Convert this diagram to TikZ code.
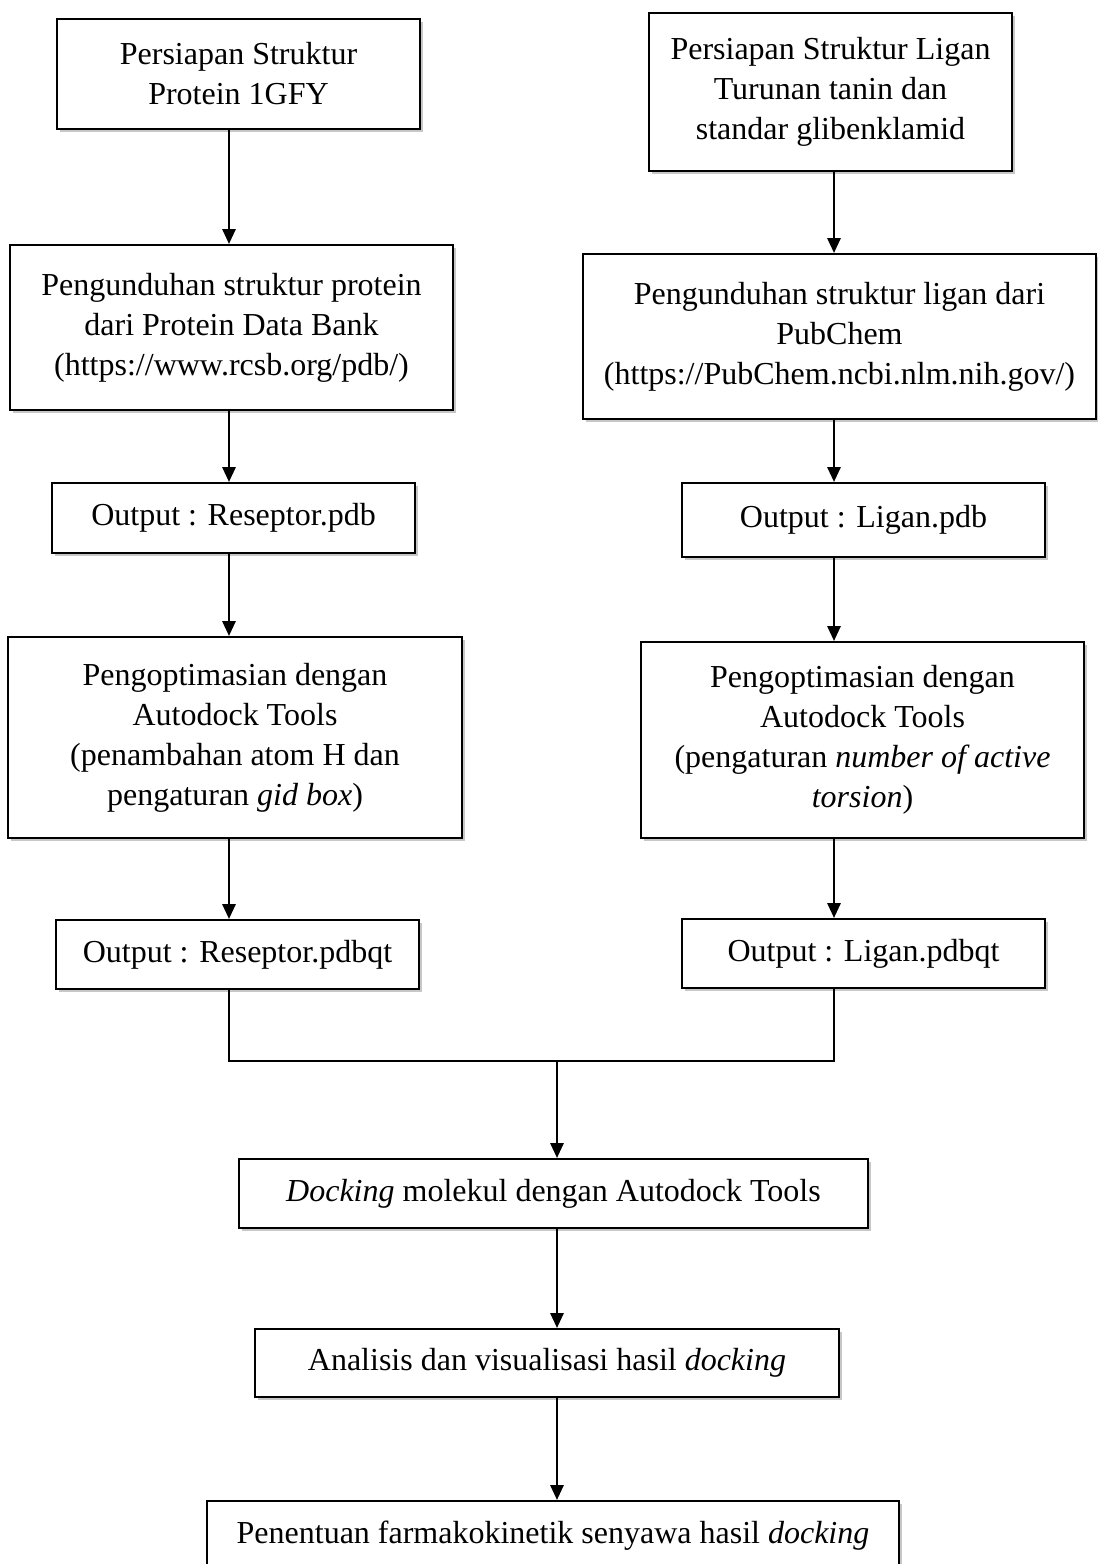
\documentclass[tikz,border=0pt]{standalone}
\usepackage{fontspec}
\setmainfont{Liberation Serif}
\usetikzlibrary{arrows.meta,shadows}
\newlength\pxu
\setlength\pxu{0.375pt}

\tikzset{
  stepbox/.style={draw, line width=0.8pt, fill=white, align=center, inner sep=2pt,
    font=\fontsize{12}{15}\selectfont,
    drop shadow={shadow xshift=1.1pt, shadow yshift=-1.1pt, opacity=0.22, fill=black}},
  flow/.style={line width=0.8pt, -{Triangle[length=5.6pt,width=5pt]}},
  link/.style={line width=0.8pt}
}

\begin{document}
\begin{tikzpicture}[x=0.375pt, y=-0.375pt]
        \path[use as bounding box, fill=white] (0,0) rectangle (1097,1564);

        % Columns of the connectors
        \coordinate (colL) at (229,0);
        \coordinate (colR) at (834,0);
        \coordinate (colM) at (557,0);
        \coordinate (join) at (557,1061);

        % Protein branch
        \node[stepbox, minimum width=363\pxu, minimum height=110\pxu] (prot) at (238.5,74) {Persiapan Struktur\\Protein 1GFY};
        \node[stepbox, minimum width=443\pxu, minimum height=165\pxu] (protdl) at (231.5,327.5) {Pengunduhan struktur protein\\dari Protein Data Bank\\(https://www.rcsb.org/pdb/)};
        \node[stepbox, minimum width=363\pxu, minimum height=70\pxu] (recpdb) at (233.5,518) {Output : Reseptor.pdb};
        \node[stepbox, minimum width=454\pxu, minimum height=201\pxu] (recopt) at (235,737.5) {Pengoptimasian dengan\\Autodock Tools\\(penambahan atom H dan\\pengaturan \textit{gid box})};
        \node[stepbox, minimum width=363\pxu, minimum height=69\pxu] (recqt) at (237.5,954.5) {Output : Reseptor.pdbqt};

        % Ligand branch
        \node[stepbox, minimum width=363\pxu, minimum height=158\pxu] (lig) at (830.5,92) {Persiapan Struktur Ligan\\Turunan tanin dan\\standar glibenklamid};
        \node[stepbox, minimum width=513\pxu, minimum height=165\pxu] (ligdl) at (839.5,336.5) {Pengunduhan struktur ligan dari\\PubChem\\(https://PubChem.ncbi.nlm.nih.gov/)};
        \node[stepbox, minimum width=363\pxu, minimum height=74\pxu] (ligpdb) at (863.5,520) {Output : Ligan.pdb};
        \node[stepbox, minimum width=443\pxu, minimum height=196\pxu] (ligopt) at (862.5,740) {Pengoptimasian dengan\\Autodock Tools\\ (pengaturan \textit{number of active}\\\textit{torsion})};
        \node[stepbox, minimum width=363\pxu, minimum height=69\pxu] (ligqt) at (863.5,953.5) {Output : Ligan.pdbqt};

        % Common steps
        \node[stepbox, minimum width=629\pxu, minimum height=69\pxu] (dock) at (553.5,1193.5) {\textit{Docking} molekul dengan Autodock Tools};
        \node[stepbox, minimum width=584\pxu, minimum height=68\pxu] (anal) at (547,1363) {Analisis dan visualisasi hasil \textit{docking}};
        \node[stepbox, minimum width=692\pxu, minimum height=69\pxu] (pkin) at (553,1535.5) {Penentuan farmakokinetik senyawa hasil \textit{docking}};

        % Arrows
        \draw[flow] (prot.south -| colL) -- (protdl.north -| colL);
        \draw[flow] (protdl.south -| colL) -- (recpdb.north -| colL);
        \draw[flow] (recpdb.south -| colL) -- (recopt.north -| colL);
        \draw[flow] (recopt.south -| colL) -- (recqt.north -| colL);
        \draw[flow] (lig.south -| colR) -- (ligdl.north -| colR);
        \draw[flow] (ligdl.south -| colR) -- (ligpdb.north -| colR);
        \draw[flow] (ligpdb.south -| colR) -- (ligopt.north -| colR);
        \draw[flow] (ligopt.south -| colR) -- (ligqt.north -| colR);

        % Merge
        \draw[link] (recqt.south -| colL) |- (join) -| (ligqt.south -| colR);
        \draw[flow] (join) -- (dock.north -| join);
        \draw[flow] (dock.south -| colM) -- (anal.north -| colM);
        \draw[flow] (anal.south -| colM) -- (pkin.north -| colM);
    \end{tikzpicture}
\end{document}
